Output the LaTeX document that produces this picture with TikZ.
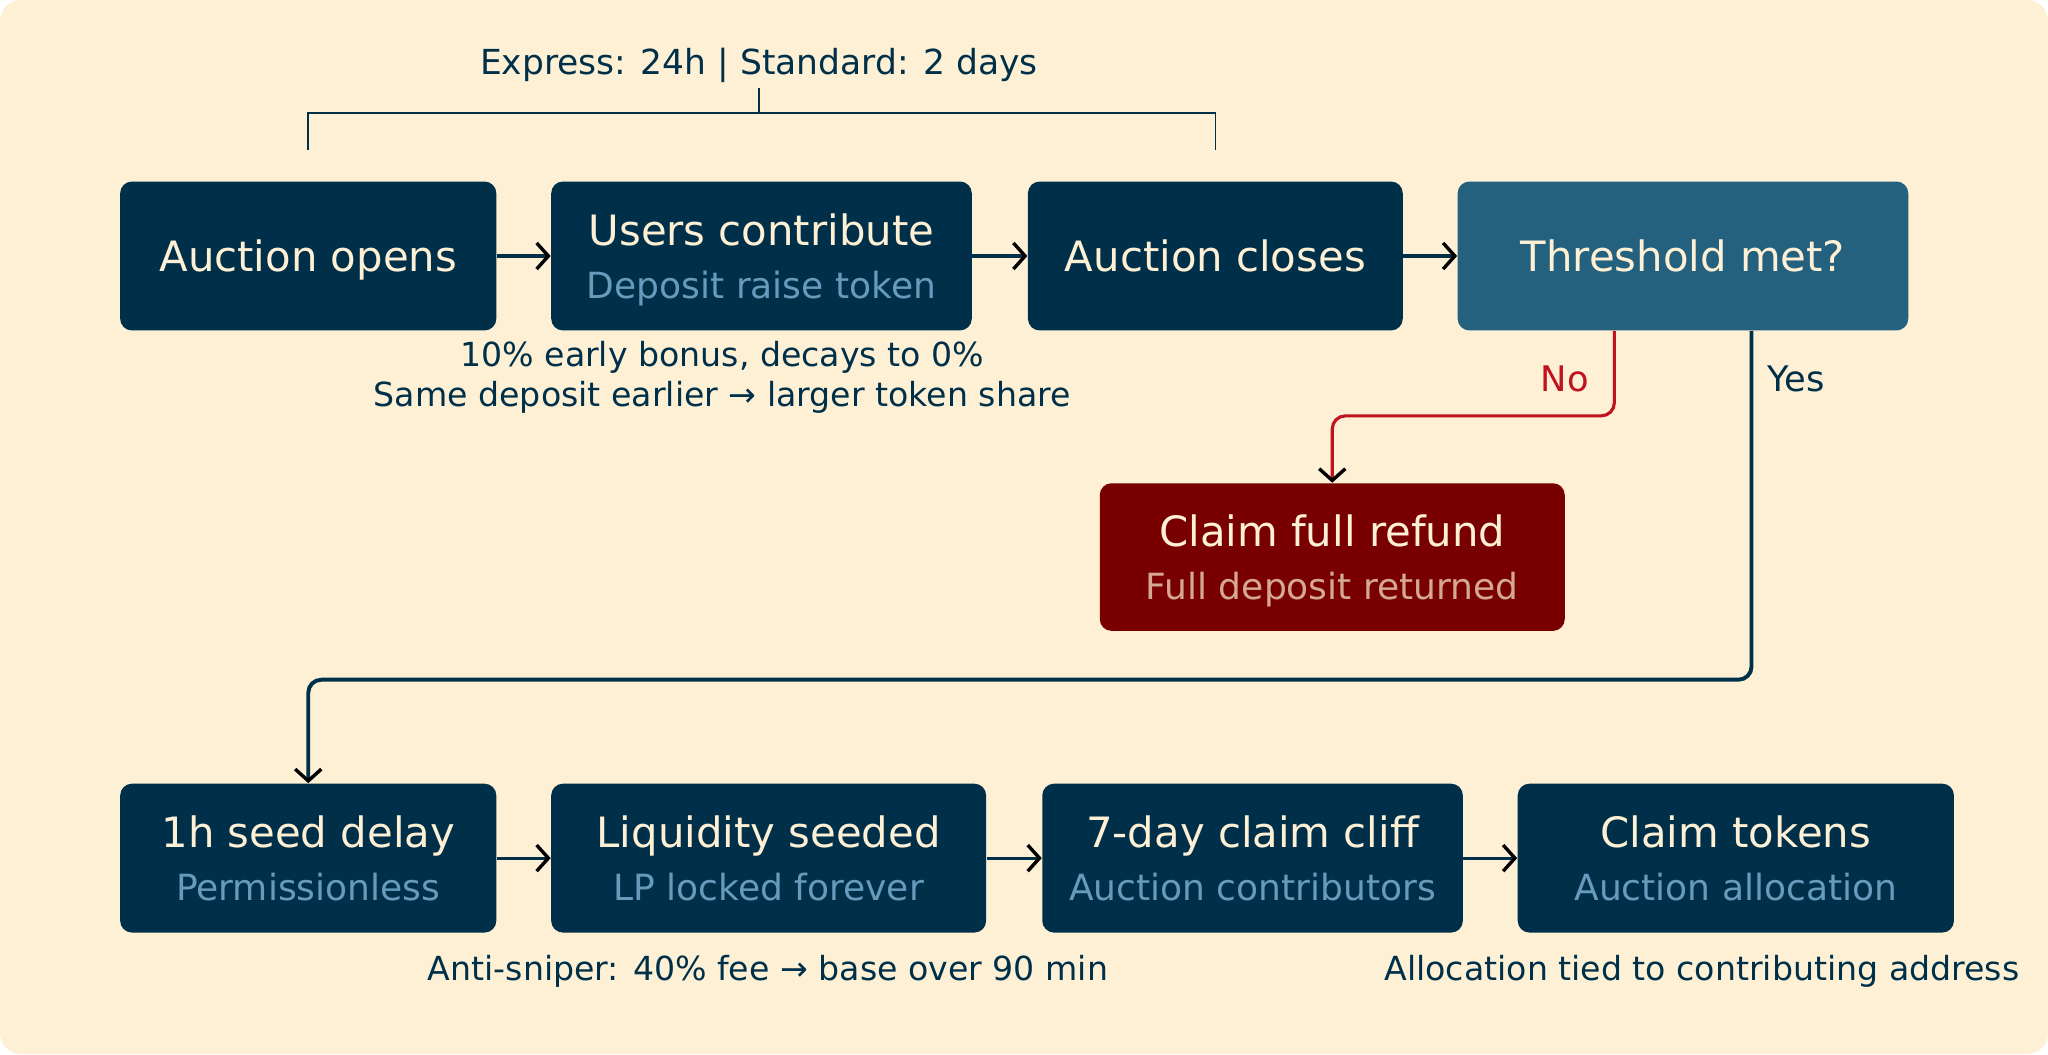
\documentclass[tikz,border=0pt]{standalone}
\usepackage{fontspec}
\setmainfont{DejaVu Sans}
\usetikzlibrary{arrows.meta}
\definecolor{cream}{HTML}{FDF0D5}
\definecolor{navy}{HTML}{003049}
\definecolor{skyblue}{HTML}{669BBC}
\definecolor{steel}{HTML}{24617F}
\definecolor{wine}{HTML}{780000}
\definecolor{crimson}{HTML}{C1121F}
\definecolor{tan}{HTML}{D5A895}
\newcommand{\subline}[2][skyblue]{{\fontsize{13.8}{16}\selectfont\color{#1}#2}}

\begin{document}
\begin{tikzpicture}[x=0.5pt,y=-0.5pt,
    stepbox/.style={rectangle,rounded corners=4.5pt,fill=navy,text=cream,minimum height=57pt,
        inner sep=0pt,align=center,text depth=0pt,font=\fontsize{16}{20.5}\selectfont},
    note/.style={text=navy,align=center,inner sep=0pt,font=\fontsize{12.7}{15.5}\selectfont},
    lbl/.style={inner sep=0pt,font=\fontsize{13.5}{16}\selectfont},
    flow/.style={draw=navy,line width=1.2pt,-{Straight Barb[length=4.5pt,width=10pt,line width=1.3pt,color=black]}},
    noflow/.style={flow,draw=crimson,rounded corners=5pt},
    yesflow/.style={flow,line width=1.5pt,rounded corners=5pt},
    bracket/.style={draw=navy,line width=0.6pt}]
    \useasboundingbox (0,0) rectangle (1568,807);
    \fill[cream,rounded corners=8pt] (0,0) rectangle (1568,807);

    % top row
    \node[stepbox,minimum width=144pt] (open) at (236,196) {Auction opens};
    \node[stepbox,minimum width=161pt] (contrib) at (583,196) {Users contribute\\\subline{Deposit raise token}};
    \node[stepbox,minimum width=143.5pt] (close) at (930.5,196) {Auction closes};
    \node[stepbox,fill=steel,minimum width=172.5pt] (thresh) at (1288.5,196) {Threshold met?};

    % refund branch
    \node[stepbox,fill=wine,minimum width=178pt,minimum height=56.5pt] (refund) at (1020,426.5)
        {Claim full refund\\\subline[tan]{Full deposit returned}};

    % bottom row
    \node[stepbox,minimum width=144pt] (seed) at (236,657) {1h seed delay\\\subline{Permissionless}};
    \node[stepbox,minimum width=166.5pt] (liq) at (588.5,657) {Liquidity seeded\\\subline{LP locked forever}};
    \node[stepbox,minimum width=161pt] (cliff) at (959,657) {7-day claim cliff\\\subline{Auction contributors}};
    \node[stepbox,minimum width=167pt] (claim) at (1329,657) {Claim tokens\\\subline{Auction allocation}};

    % notes
    \node[note,font=\fontsize{13.2}{15.5}\selectfont] (timing) at (581,50) {Express: 24h | Standard: 2 days};
    \node[note] (bonus) at (553,289) {10\% early bonus, decays to 0\%\\Same deposit earlier → larger token share};
    \node[note] (sniper) at (588,744) {Anti-sniper: 40\% fee → base over 90 min};
    \node[note] (tied) at (1303,744) {Allocation tied to contributing address};
    \node[lbl,text=crimson] (nolbl) at (1198,290) {No};
    \node[lbl,text=navy] (yeslbl) at (1375,290) {Yes};

    % bracket over the auction window
    \draw[bracket] ([yshift=12pt]open.north) -- ++(0,-28) -| ([yshift=12pt]close.north);
    \draw[bracket] (581,87) -- (581,67);

    \draw[flow] (open) -- (contrib);
    \draw[flow] (contrib) -- (close);
    \draw[flow] (close) -- (thresh);
    \draw[noflow] ([xshift=-26.25pt]thresh.south) -- ++(0,65) -| (refund.north);
    \draw[yesflow] ([xshift=26.25pt]thresh.south) -- ++(0,267) -| (seed.north);
    \draw[flow] (seed) -- (liq);
    \draw[flow] (liq) -- (cliff);
    \draw[flow] (cliff) -- (claim);
\end{tikzpicture}
\end{document}
